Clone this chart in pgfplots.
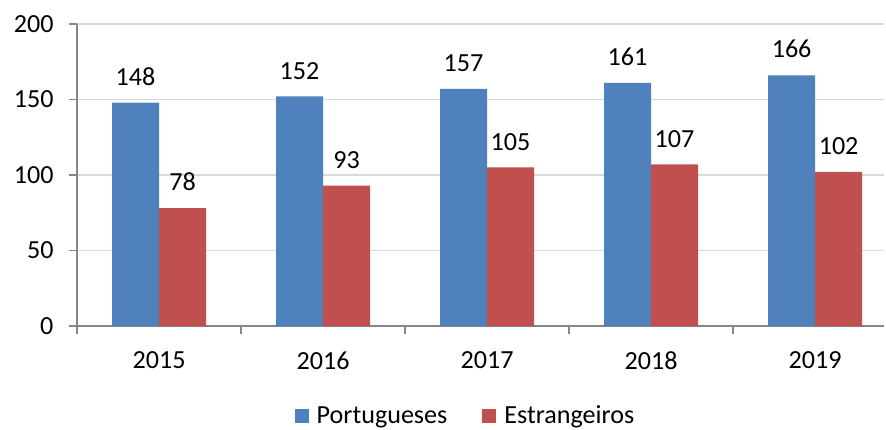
\documentclass[border=0pt]{standalone}
\usepackage{pgfplots}
\pgfplotsset{compat=1.18}
\usepackage{fontspec}
\setmainfont{Carlito}
\definecolor{pblue}{HTML}{4F81BD}
\definecolor{pred}{HTML}{C0504D}
\definecolor{axgray}{HTML}{868686}
\definecolor{grdgray}{HTML}{D9D9D9}
\newcommand{\cf}{\fontsize{26.2}{30}\selectfont}
\begin{document}
\begin{tikzpicture}
\path[use as bounding box] (-77bp,-104bp) rectangle (809bp,326bp);
\begin{axis}[
 at={(0,0)}, anchor=south west,
 scale only axis, width=807bp, height=302bp,
 xmin=-0.5, xmax=4.42, ymin=0, ymax=200,
 ytick={0,50,...,200},
 xtick={0,1,2,3,4}, xticklabels={2015,2016,2017,2018,2019},
 minor xtick={-0.5,0.5,1.5,2.5,3.5},
 axis x line*=bottom, axis y line*=left,
 axis line style={axgray, line width=1.3bp},
 ymajorgrids, grid style={grdgray, line width=1.3bp},
 major tick length=8bp, minor tick length=8bp, tick align=outside,
 major x tick style={draw=none},
 minor x tick style={axgray, line width=1.3bp},
 y tick style={axgray, line width=1.3bp},
 /pgf/number format/assume math mode=true,
 tick label style={font=\cf},
 xticklabel style={yshift=-14bp},
 yticklabel style={xshift=-12bp},
 ybar=0pt, bar width=47bp,
 nodes near coords,
 every node near coord/.append style={font=\cf, anchor=south, inner sep=0pt, yshift=17bp, text=black},
 legend columns=2,
 legend style={at={(0.4814,-0.297)}, anchor=center, draw=none, font=\cf,
   /tikz/every even column/.append style={column sep=33bp}},
]
\addplot[fill=pblue, draw=none, legend image code/.code={\fill[pblue] (0bp,-7bp) rectangle (14bp,7bp); \path (20bp,0bp);}]
 coordinates {(0,148) (1,152) (2,157) (3,161) (4,166)};
\addplot[fill=pred, draw=none, legend image code/.code={\fill[pred] (0bp,-7bp) rectangle (14bp,7bp); \path (20bp,0bp);}]
 coordinates {(0,78) (1,93) (2,105) (3,107) (4,102)};
\legend{Portugueses, Estrangeiros}
\end{axis}
\end{tikzpicture}
\end{document}
